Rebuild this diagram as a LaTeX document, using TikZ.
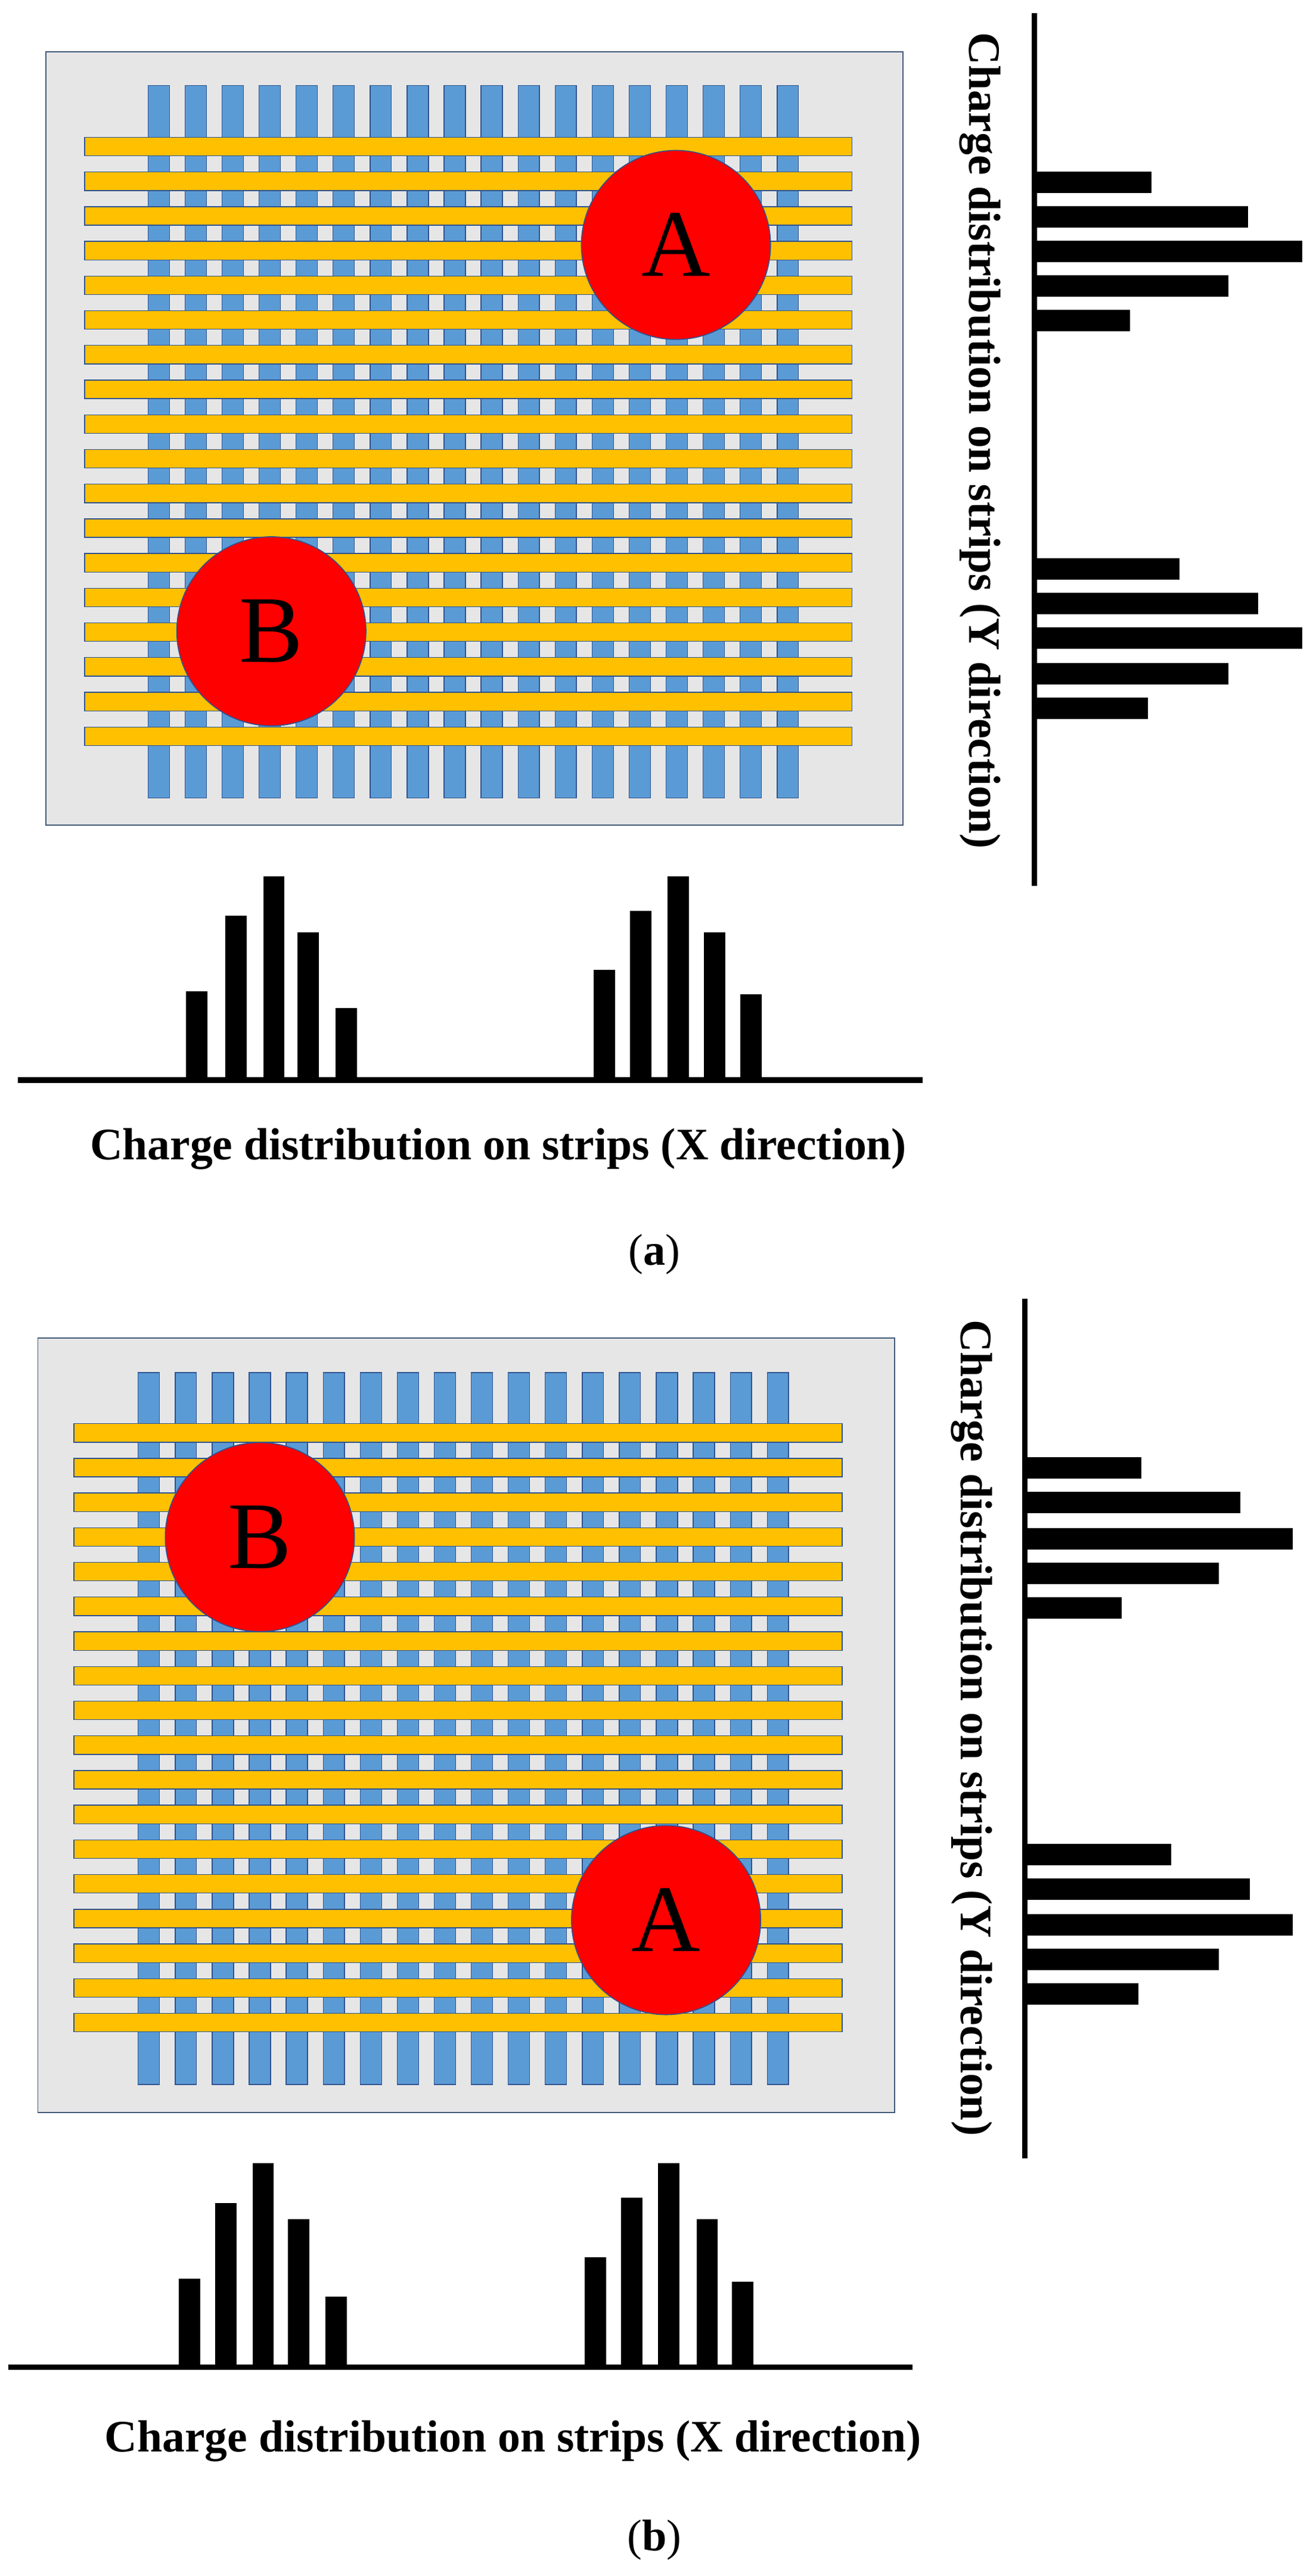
\documentclass[tikz,border=0pt]{standalone}
\usepackage{fontspec}
\setmainfont{Liberation Serif}
\begin{document}
\begin{tikzpicture}[x=1pt,y=-1pt,
  gbox/.style={fill={rgb,255:red,230;green,230;blue,230},draw={rgb,255:red,65;green,90;blue,120},line width=0.6pt},
  bstrip/.style={fill={rgb,255:red,91;green,155;blue,213},draw={rgb,255:red,47;green,82;blue,143},line width=0.5pt},
  ystrip/.style={fill={rgb,255:red,255;green,192;blue,0},draw={rgb,255:red,47;green,82;blue,143},line width=0.5pt},
  spot/.style={circle,fill=red,draw={rgb,255:red,47;green,82;blue,143},line width=0.6pt,minimum size=115pt,inner sep=0pt,font=\fontsize{58}{58}\selectfont},
  axis/.style={line width=3.3pt},
  bar/.style={fill=black},
  lab/.style={font=\bfseries\fontsize{27.4}{27.4}\selectfont,inner sep=0pt},
  subcap/.style={font=\fontsize{27}{27}\selectfont,inner sep=0pt}]
\useasboundingbox (0,0) rectangle (800,1567);
% ---------- panel (a) ----------
\draw[gbox] (28,31.5) rectangle (549,502);
\foreach \i in {0,...,17}{\draw[bstrip] ({90+22.5*\i},52) rectangle ({103+22.5*\i},485.5);}
\foreach \j in {0,...,17}{\draw[ystrip] (51.4,{83.5+21.1*\j}) rectangle (518,{94.8+21.1*\j});}
\node[spot] (aA) at (411,149) {A};
\node[spot] (aB) at (165,384) {B};
% Y axis (a)
\coordinate (ay1) at (629,8); \coordinate (ay2) at (629,539);
\draw[axis] (ay1) -- (ay2);
\foreach \y/\e in {111/700,132/759,153/792,174/747,195/687,346/717,367/765,388/792,410/747,431/698}
  {\fill[bar] (629,{\y-6.5}) rectangle (\e,{\y+6.5});}
\node[lab,rotate=-90] (aylab) at (596,268) {Charge distribution on strips (Y direction)};
% X axis (a)
\coordinate (ax1) at (11,657); \coordinate (ax2) at (561,657);
\draw[axis] (ax1) -- (ax2);
\foreach \x/\t in {113/603,137/557,160/533,181/567,204/613,361/590,383/554,406/533,428/567,450/605}
  {\fill[bar] (\x,\t) rectangle ({\x+13},657);}
\node[lab] (axlab) at (303,699) {Charge distribution on strips (X direction)};
\node[subcap] (capa) at (398,763) {(\textbf{a})};
% ---------- panel (b) ----------
\draw[gbox] (23,814) rectangle (544,1285);
\foreach \i in {0,...,17}{\draw[bstrip] ({84+22.5*\i},835) rectangle ({97+22.5*\i},1268);}
\foreach \j in {0,...,17}{\draw[ystrip] (45,{866+21.1*\j}) rectangle (512,{877.3+21.1*\j});}
\node[spot] (bB) at (158,935) {B};
\node[spot] (bA) at (405,1168) {A};
% Y axis (b)
\coordinate (by1) at (623,790); \coordinate (by2) at (623,1313);
\draw[axis] (by1) -- (by2);
\foreach \y/\e in {893/694,914/754,936/786,957/741,978/682,1128/712,1149/760,1171/786,1192/741,1213/692}
  {\fill[bar] (623,{\y-6.5}) rectangle (\e,{\y+6.5});}
\node[lab,rotate=-90] (bylab) at (591,1051) {Charge distribution on strips (Y direction)};
% X axis (b)
\coordinate (bx1) at (5,1440); \coordinate (bx2) at (555,1440);
\draw[axis] (bx1) -- (bx2);
\foreach \x/\t in {108.7/1386,131/1340,153.5/1316,175/1350,198/1397,355.5/1373,377.5/1337,400/1316,423.5/1350,445/1388}
  {\fill[bar] (\x,\t) rectangle ({\x+13},1440);}
\node[lab] (bxlab) at (312,1485) {Charge distribution on strips (X direction)};
\node[subcap] (capb) at (398,1545) {(\textbf{b})};
\end{tikzpicture}
\end{document}
